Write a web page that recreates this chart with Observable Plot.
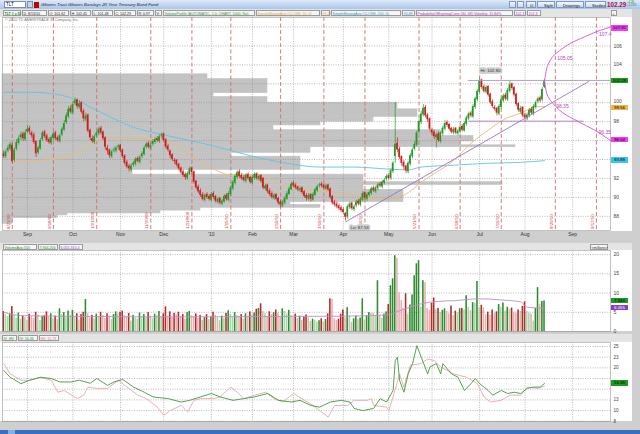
<!DOCTYPE html>
<html><head><meta charset="utf-8">
<script src="https://cdn.jsdelivr.net/npm/d3@7"></script>
<script src="https://cdn.jsdelivr.net/npm/@observablehq/plot@0.6"></script>
<style>
*{box-sizing:border-box}
body{margin:0;width:640px;height:434px;overflow:hidden;background:#cfcfcf;font-family:"Liberation Sans",Arial,sans-serif;position:relative}
.abs{position:absolute}
.panel{position:absolute;left:0;width:632px;background:#fff}
.hdr{position:absolute;left:0;width:632px;height:8px;background:#e4e4e4}
.bx{position:absolute;top:1px;height:6px;line-height:6px;font-size:3.6px;border:0.5px solid #9a9a9a;background:#f6f6f6;white-space:nowrap;overflow:visible;padding-left:0.5px;color:#222}
.tag{position:absolute;left:611px;width:17px;height:5.6px;line-height:5.6px;font-size:4.4px;text-align:center;color:#000}
.holder{position:absolute;left:0}
.holder svg{overflow:visible}
.btn{position:absolute;top:1px;height:7px;line-height:7px;font-size:4.1px;border:0.5px solid #7f98c0;background:linear-gradient(#f4f8fd,#c9d9ef);padding-left:6px;color:#111;white-space:nowrap}
</style></head>
<body>
<div class="abs" style="top:0;left:0;width:640px;height:9px;background:linear-gradient(#dfeaf8,#a8c5ec)">
  <div class="abs" style="left:4px;top:1px;width:22px;height:7px;background:#fff;border:0.5px solid #7a8fb0;font-size:4.5px;line-height:6px;padding-left:1px">TLT</div>
  <div class="abs" style="left:27px;top:1px;width:6px;height:7px;background:#c8d4e8;border:0.5px solid #7a8fb0"></div>
  <div class="abs" style="left:34px;top:1.5px;width:5px;height:6px;background:#c00000"></div>
  <div class="abs" style="left:41px;top:1px;font-size:4.4px;line-height:7px;font-style:italic;color:#222;white-space:nowrap">iShares Trust iShares Barclays 20 Year Treasury Bond Fund</div>
  <div class="btn" style="left:509px;width:7px;padding:0"></div>
  <div class="btn" style="left:517px;width:7px;padding:0"></div>
  <div class="btn" style="left:526px;width:10px;padding:0 0 0 3px">⊡</div>
  <div class="btn" style="left:537px;width:18px">Style</div>
  <div class="btn" style="left:556px;width:28px">Drawings</div>
  <div class="btn" style="left:585px;width:21px">Studies</div>
  <div class="abs" style="left:607px;top:0.5px;font-size:6.3px;font-weight:bold;color:#b0103a;line-height:8px">102.29</div>
  <div class="abs" style="left:627px;top:1px;font-size:2.8px;color:#1a7a1a;line-height:3.3px">+1.26<br>+1.25%</div>
</div>
<div class="hdr" style="top:9px" id="h1"></div>
<div class="panel" style="top:17px;height:214px"></div>
<div class="abs" style="left:5px;top:18px;font-size:3.8px;color:#777;white-space:nowrap">© 2010 TD AMERITRADE IP Company, Inc.</div>
<div class="holder" id="prof" style="top:17px"></div>
<div class="holder" id="main" style="top:17px"></div>
<div class="hdr" style="top:243px" id="h2"></div>
<div class="panel" style="top:250px;height:81px"></div>
<div class="holder" id="vol" style="top:250px"></div>
<div class="hdr" style="top:334px" id="h3"></div>
<div class="panel" style="top:342px;height:79px"></div>
<div class="holder" id="iv" style="top:342px"></div>
<div class="abs" style="top:430px;left:0;width:640px;height:4px;background:#3a6fc0"></div>
<div class="abs" style="top:430px;left:8px;width:7px;height:4px;background:#7fb0e8"></div>
<script>
// ---------- categories ----------
const holidays = ["2009-09-07","2009-11-26","2009-12-25","2010-01-01","2010-01-18","2010-02-15","2010-04-02","2010-05-31","2010-07-05","2010-09-06"];
const days = [];
for (let t = Date.UTC(2009,7,17); t <= Date.UTC(2010,8,30); t += 864e5) {
  const d = new Date(t), wd = d.getUTCDay(), s = d.toISOString().slice(0,10);
  if (wd > 0 && wd < 6 && !holidays.includes(s)) days.push(s);
}
const idx = s => days.indexOf(s);
const monthStarts = ["2009-09-01","2009-10-01","2009-11-02","2009-12-01","2010-01-04","2010-02-01","2010-03-01","2010-04-01","2010-05-03","2010-06-01","2010-07-01","2010-08-02","2010-09-01"];
const monthLabels = ["Sep","Oct","Nov","Dec","'10","Feb","Mar","Apr","May","Jun","Jul","Aug","Sep"];
const expiryDates = ["2009-08-21","2009-09-18","2009-10-16","2009-11-20","2009-12-18","2010-01-15","2010-02-19","2010-03-19","2010-04-16","2010-05-21","2010-06-18","2010-07-16","2010-08-20","2010-09-17"];
const expiryLabels = ["8/21/09","9/18/09","10/16/09","11/20/09","12/18/09","1/15/10","2/19/10","3/19/10","4/16/10","5/21/10","6/18/10","7/16/10","8/20/10","9/17/10"];
const priceTicks = [88,90,92,94,96,98,100,102,104,106,108];
const priceLabels = [88,90,92,98,104,106];   // the others sit under value tags
const volTicks = [0,5,10,15,20];
const ivTicks = [7.5,10,12.5,15,17.5,20,22.5,25];
const ivLabels = [7.5,10,12.5,20,22.5,25];

// ---------- daily OHLC (TLT, 8/17/09 .. 8/13/10) ----------
const open = [
94.6,94.3,94.9,95.1,95.5,93.9,95.1,95.7,96.3,96.7,
96.1,96.9,97.3,96.8,96.6,95.9,94.7,95.1,96.1,96.9,
96.5,96.1,95.7,96.2,96.8,96.3,95.9,96.6,97.1,97.9,
98.5,99.4,98.9,99.9,100.3,99.5,100.0,99.1,98.2,98.7,
97.1,96.2,95.8,96.5,96.7,97.3,96.9,96.3,95.2,95.0,
94.3,94.9,94.9,95.3,95.5,95.0,94.4,93.7,93.3,92.9,
93.4,93.5,94.1,93.7,94.3,94.5,95.3,95.7,95.2,95.6,
95.8,96.2,95.9,96.5,96.7,96.1,95.4,94.9,94.5,93.9,
93.9,93.5,93.1,92.7,92.4,92.0,92.4,93.1,92.7,91.7,
91.1,90.7,90.3,89.7,90.3,90.1,89.7,90.4,90.1,89.5,
89.9,89.3,89.5,90.2,89.7,90.3,90.9,91.5,92.1,92.7,
92.3,92.1,91.7,92.4,92.1,91.5,92.0,92.5,91.9,92.3,
92.0,90.9,91.3,90.7,90.4,89.9,90.3,89.9,89.5,89.1,
89.4,89.8,90.3,90.8,91.5,91.3,91.1,90.7,91.0,90.6,
90.2,89.8,90.3,89.7,90.2,90.7,91.2,91.4,91.3,90.9,
91.3,90.9,90.1,89.5,89.3,89.1,88.9,88.7,88.3,87.9,
88.9,89.4,88.7,89.1,89.6,89.2,89.7,90.5,89.8,90.2,
90.4,91.0,90.6,90.9,91.4,91.1,91.5,91.9,92.3,92.0,
92.7,94.3,95.7,95.1,94.3,93.7,93.3,92.7,93.5,94.3,
95.1,95.5,96.9,97.9,98.7,99.5,98.7,98.3,97.1,96.9,
96.3,96.7,95.9,96.7,97.2,97.9,97.7,97.3,96.8,97.3,
96.7,96.9,97.5,97.0,97.7,98.3,98.9,98.5,99.5,100.3,
101.1,102.4,101.7,101.1,101.7,100.9,100.1,99.5,99.4,98.8,
99.5,100.2,100.8,100.3,101.2,102.0,101.6,100.9,99.9,99.0,
99.5,98.7,98.3,98.6,99.3,98.8,99.5,100.1,100.5,100.3,
101.62];
const high = [
94.9,95.0,95.5,95.8,95.7,95.2,96.1,96.5,96.9,96.9,
97.1,97.6,97.5,97.0,96.8,96.0,95.4,96.2,97.0,97.1,
96.7,96.3,96.5,96.9,97.0,96.5,96.7,97.4,98.1,98.9,
99.6,99.7,100.1,100.5,100.4,100.2,100.1,99.3,98.9,98.8,
97.2,96.5,96.6,97.0,97.4,97.5,97.0,96.4,95.5,95.1,
95.0,95.3,95.4,95.6,95.6,95.1,94.5,93.9,93.5,93.5,
93.8,94.2,94.3,94.4,94.8,95.4,95.8,95.9,95.7,96.1,
96.3,96.4,96.6,96.8,96.8,96.2,95.6,95.0,94.6,94.1,
94.0,93.6,93.2,92.9,92.6,92.7,93.2,93.2,92.8,91.8,
91.3,90.9,90.5,90.4,90.5,90.3,90.5,90.6,90.2,90.0,
90.0,89.8,90.3,90.4,90.6,91.2,91.8,92.4,92.8,92.9,
92.5,92.3,92.5,92.6,92.2,92.3,92.6,92.6,92.4,92.4,
92.1,91.4,91.4,90.9,90.6,90.4,90.4,90.0,89.7,89.7,
90.1,90.6,91.1,91.6,91.7,91.5,91.2,91.1,91.1,90.7,
90.4,90.4,90.4,90.5,91.0,91.3,91.5,91.6,91.4,91.4,
91.4,91.0,90.2,89.7,89.5,89.3,89.1,88.9,88.4,89.2,
89.5,89.5,89.2,89.7,89.8,90.0,90.6,90.6,90.5,90.7,
91.1,91.2,91.2,91.5,91.6,91.8,92.0,92.4,92.5,93.0,
93.8,100.0,96.3,95.3,94.4,93.9,93.4,93.8,94.6,95.2,
95.9,97.0,98.2,99.1,99.8,99.7,98.9,98.4,97.3,97.1,
96.8,96.9,97.0,97.5,98.1,98.1,97.8,97.4,97.4,97.4,
97.2,97.6,97.7,98.0,98.6,99.0,99.1,99.8,100.6,101.4,
102.8,102.5,101.9,101.8,101.8,101.0,100.3,99.7,99.5,99.8,
100.5,100.9,101.0,101.5,102.3,102.1,101.7,101.0,100.0,99.6,
99.6,98.9,98.9,99.4,99.5,99.8,100.2,100.6,100.7,101.6,
102.45];
const low = [
94.1,94.1,94.7,94.9,93.6,93.7,94.9,95.5,96.0,95.9,
95.9,96.7,96.6,96.2,95.6,94.2,94.5,95.0,95.9,96.2,
95.8,95.6,95.5,96.0,96.0,95.8,95.7,96.4,97.0,97.7,
98.3,98.8,98.7,99.7,99.3,99.3,98.8,98.0,98.0,96.8,
96.0,95.7,95.6,96.3,96.5,96.6,96.0,95.0,94.5,94.1,
94.1,94.7,94.7,95.0,94.7,94.1,93.4,93.0,92.7,92.7,
93.2,93.3,93.6,93.5,94.1,94.4,95.1,95.1,95.0,95.4,
95.6,95.8,95.7,96.2,95.8,95.1,94.8,94.1,93.8,93.5,
93.2,92.8,92.4,92.1,91.8,91.8,92.3,92.4,91.4,90.8,
90.4,90.0,89.6,89.5,89.8,89.6,89.5,89.8,89.4,89.3,
89.2,89.1,89.4,89.6,89.5,90.1,90.7,91.3,91.9,92.0,
91.8,91.6,91.5,91.8,91.4,91.3,91.8,91.8,91.7,91.5,
90.8,90.7,90.4,90.1,89.8,89.7,89.6,89.2,88.9,88.9,
89.2,89.7,90.2,90.7,91.0,90.8,90.6,90.5,90.3,89.9,
89.6,89.6,89.5,89.6,90.1,90.5,91.0,91.0,90.8,90.7,
90.6,89.8,89.2,89.0,88.8,88.6,88.4,88.2,87.5,87.7,
88.7,88.6,88.5,88.9,89.1,89.0,89.5,89.7,89.6,90.0,
90.2,90.5,90.4,90.7,91.0,90.9,91.3,91.7,91.8,91.8,
92.5,93.6,94.7,94.0,93.3,92.9,92.5,92.5,93.3,94.1,
94.9,95.3,96.7,97.7,98.5,98.4,97.9,97.0,96.5,96.1,
95.2,95.8,95.7,96.5,97.0,97.4,97.0,96.7,96.6,96.6,
96.5,96.7,96.9,96.9,97.5,98.1,98.4,98.3,99.3,100.1,
100.9,101.4,101.0,100.9,100.6,99.8,99.4,99.1,98.6,98.6,
99.3,100.0,100.2,100.1,101.0,101.3,100.6,99.6,99.0,98.8,
98.4,98.0,98.1,98.4,98.7,98.6,99.3,99.9,100.0,100.1,
101.48];
const close = [
94.3,94.8,95.2,95.6,93.8,95.0,95.8,96.2,96.6,96.2,
96.8,97.2,96.9,96.5,95.8,94.6,95.2,96.0,96.8,96.4,
96.0,95.8,96.3,96.7,96.2,96.0,96.5,97.2,97.8,98.6,
99.3,99.0,99.8,100.2,99.6,99.9,99.0,98.3,98.6,97.0,
96.3,95.9,96.4,96.8,97.2,96.8,96.2,95.3,94.9,94.4,
94.8,95.0,95.2,95.4,94.9,94.3,93.6,93.2,93.0,93.3,
93.6,94.0,93.8,94.2,94.6,95.2,95.6,95.3,95.5,95.9,
96.1,96.0,96.4,96.6,96.0,95.3,95.0,94.4,94.0,93.8,
93.4,93.0,92.6,92.3,92.1,92.5,93.0,92.6,91.6,91.0,
90.6,90.2,89.8,90.2,90.0,89.8,90.3,90.0,89.6,89.8,
89.4,89.6,90.1,89.8,90.4,91.0,91.6,92.2,92.6,92.2,
92.0,91.8,92.3,92.0,91.6,92.1,92.4,92.0,92.2,91.7,
91.0,91.2,90.6,90.3,90.0,90.2,89.8,89.4,89.2,89.5,
89.9,90.4,90.9,91.4,91.2,91.0,90.8,90.9,90.5,90.1,
89.9,90.2,89.8,90.3,90.8,91.1,91.3,91.2,91.0,91.2,
90.8,90.0,89.4,89.2,89.0,88.8,88.6,88.4,87.9,89.0,
89.3,88.8,89.0,89.5,89.3,89.8,90.4,89.9,90.3,90.5,
90.9,90.7,91.0,91.3,91.2,91.6,91.8,92.2,92.0,92.8,
93.6,95.6,95.0,94.2,93.6,93.2,92.8,93.6,94.4,95.0,
95.6,96.8,98.0,98.8,99.4,98.6,98.2,97.2,96.8,96.4,
96.6,96.0,96.8,97.3,97.8,97.6,97.2,96.9,97.2,96.8,
97.0,97.4,97.1,97.8,98.4,98.8,98.6,99.6,100.4,101.2,
102.3,101.6,101.2,101.6,100.8,100.0,99.6,99.3,98.9,99.6,
100.3,100.7,100.4,101.3,101.9,101.5,100.8,99.8,99.2,99.4,
98.6,98.4,98.7,99.2,98.9,99.6,100.0,100.4,100.2,101.4,
102.29];
// daily volume, millions
const volume = [
5.2,4.4,3.9,4.6,6.5,4.2,3.5,4.8,3.2,4.0,3.6,
2.9,4.5,3.8,3.4,5.0,4.3,2.8,3.9,4.1,5.1,3.7,
4.6,3.3,4.0,3.1,5.9,4.4,4.9,3.6,5.3,4.2,5.5,
3.9,4.6,3.0,4.4,5.0,8.3,4.7,3.6,4.2,3.3,4.5,
3.9,5.0,4.2,3.4,4.6,4.0,3.1,4.4,5.1,4.6,5.0,
5.3,4.1,3.8,4.7,2.7,4.2,3.5,3.2,4.8,3.9,4.4,
3.6,4.9,4.0,3.3,4.5,4.1,5.2,3.8,4.6,6.4,4.0,
5.1,3.6,4.7,4.3,5.0,3.9,4.4,3.2,4.9,5.2,4.1,
3.7,4.6,3.4,4.2,2.9,3.6,4.4,3.1,3.8,5.0,4.2,
3.5,2.8,4.0,3.3,4.7,5.4,4.5,3.7,4.9,4.1,3.8,
4.4,3.2,4.6,4.0,5.1,4.3,4.8,5.8,6.0,7.2,5.2,
4.6,3.9,5.1,4.4,4.9,5.6,4.8,3.7,5.9,5.2,4.6,
5.5,4.2,3.6,4.5,3.3,4.0,2.9,3.8,4.3,3.5,2.6,
3.2,2.9,2.4,2.8,3.3,2.5,3.1,4.6,8.5,8.4,3.3,
2.9,3.2,4.5,5.6,3.5,6.2,4.1,2.4,3.3,4.0,3.1,
3.5,8.5,3.0,4.1,4.9,4.8,4.7,4.2,13.2,4.0,3.4,
4.5,5.1,7.0,11.9,13.7,19.7,19.0,10.1,8.0,6.0,9.8,
4.5,6.9,9.5,14.5,17.6,18.4,6.3,13.2,12.7,6.0,5.5,
7.3,8.7,5.8,6.0,4.9,5.5,5.9,5.2,4.6,6.6,4.1,
5.3,4.8,5.9,6.0,5.6,9.3,6.2,5.4,7.5,7.3,13.0,
6.2,6.8,6.1,4.4,5.0,4.2,5.6,4.6,5.1,7.0,6.3,
7.4,5.3,6.3,5.8,6.1,5.0,4.7,5.6,5.2,6.5,7.7,
5.2,4.8,4.5,2.7,6.0,11.4,7.0,7.8,7.944];
// 50-day volume average (bar index, millions)
const volAvgIdx = [0,9,40,80,120,160,177,183,193,200,208,220,230,239,242,250];
const volAvgVal = [5.0,4.1,3.9,3.8,3.9,4.0,4.3,5.4,7.2,7.8,8.0,8.5,8.2,7.7,6.3,6.06];
// moving averages (bar index, price)
const sma50Idx = [5,16,26,34,43,49,60,72,78,88,97,106,115,125,133,146,159,170,180,187,193,199,208,216,224,231,239,247,250];
const sma50Val = [93.8,93.9,94.1,94.7,96.0,96.3,96.2,96.0,95.7,94.2,93.0,92.3,92.3,91.8,90.9,90.7,90.4,89.9,89.9,90.5,91.6,92.5,93.9,95.7,97.1,98.2,98.9,99.6,99.56];
const sma200Idx = [0,14,30,43,60,76,96,114,131,146,162,177,187,193,208,224,239,250];
const sma200Val = [101.1,101.1,100.6,99.2,97.4,96.5,95.5,94.4,93.6,93.2,93.2,93.0,92.9,93.2,93.4,93.6,93.7,93.88];
// probability cone (bar index, upper, lower)
const coneIdx = [250,251,252,254,257,260,264,269,274,278,280.5];
const coneHi = [102.3,103.6,104.2,104.9,105.5,106.0,106.5,107.0,107.5,107.8,108.0];
const coneLo = [102.3,101.0,100.5,99.9,99.2,98.7,98.2,97.6,97.0,96.4,96.0];
// volume profile (price band low, high, volume units)
const profLo = [102.5,101.0,100.6,100.0,99.3,98.5,98.0,97.6,97.1,96.5,95.9,95.5,95.3,94.7,94.3,92.9,92.4,91.6,91.3,90.8,89.5,89.2,88.9,88.6,88.3,88.1,87.8,87.2];
const profHi = [103.0,102.5,101.0,100.6,100.0,99.3,98.5,98.0,97.6,97.1,96.5,95.9,95.5,95.3,94.7,94.3,92.9,92.4,91.6,91.3,90.8,89.5,89.2,88.9,88.6,88.3,88.1,87.8];
const profVol = [205,265,211,265,395,415,371,318,271,438,471,458,513,308,228,298,130,361,500,361,401,288,318,198,158,65,55,10];
// implied / historical volatility (bar index, %)
const ivIdx = [0,3,8,12,17,22,26,31,35,40,43,48,51,55,60,65,69,76,82,86,91,96,100,106,111,116,122,127,133,137,142,146,151,156,160,162,166,171,174,177,180,181,182,183,185,187,189,191,193,196,197,200,202,203,207,210,213,216,218,220,224,226,230,233,236,239,242,245,248,250];
const ivVal = [19.4,17.8,16.3,17.1,17.8,17.5,16.7,16.7,17.1,16.4,17.5,15.9,16.7,17.3,15.5,14.3,13.2,12.8,12.0,12.4,13.2,14.0,13.2,12.4,12.8,13.2,14.0,12.4,12.0,12.4,11.2,10.8,12.0,12.4,12.0,10.5,10.0,10.5,12.8,12.0,14.7,21.7,22.5,17.1,14.3,18.6,21.0,25.2,22.5,18.6,20.2,21.0,18.6,21.0,18.6,17.8,14.7,16.3,17.5,16.3,14.7,13.6,14.7,14.0,14.3,14.0,15.2,15.5,15.5,16.36];
const hvIdx = [0,3,8,12,17,22,25,28,34,37,39,43,48,53,57,62,66,71,74,77,82,85,88,91,97,100,105,108,111,116,121,125,129,134,139,143,146,150,153,159,162,168,170,171,177,178,180,183,185,188,193,196,199,202,208,214,219,222,225,230,234,239,242,247,250];
const hvVal = [21.0,18.6,17.1,17.1,17.8,17.1,14.3,14.7,12.8,13.6,15.5,15.2,15.2,17.1,15.5,13.6,12.8,10.8,8.9,10.0,11.2,9.7,12.4,12.8,12.8,13.2,15.5,14.3,12.8,13.6,14.3,12.8,12.0,14.0,12.4,11.2,10.0,8.5,11.2,11.2,12.4,12.4,12.8,11.2,10.8,10.0,13.2,18.6,15.5,20.6,21.0,22.1,21.7,20.2,18.6,17.8,16.3,13.2,12.0,12.4,13.6,13.6,15.5,15.2,15.73];
// drawn lines (bar index / price anchors)
const drawLines = [
  {x1:158, y1:87.4, x2:270.5, y2:102.25, c:"#9a72c8"},
  {x1:214.5, y1:102.35, x2:280.5, y2:102.35, c:"#a89cb4"},
  {x1:215, y1:98.05, x2:268, y2:98.05, c:"#b47ac6"}
];

// ---------- build ----------
const UP = "#1f9a24", DN = "#d11c1c";
const FONT = "'Liberation Sans', Arial, sans-serif";
const xDomain = [-0.55, 280.5];
const monthIdx = monthStarts.map(idx);
const expiries = expiryDates.map((d, k) => ({i: idx(d), label: expiryLabels[k]}));
const candles = close.map((c, i) => ({i, o: open[i], h: high[i], l: low[i], c}));
const bars = volume.map((v, i) => {
  const up = i === 0 ? close[0] >= open[0] : close[i] >= close[i - 1];
  const strong = i === 0 ? true : v >= volume[i - 1];
  return {i, v, col: up ? (strong ? "#2e8c2e" : "#a9d6a9") : (strong ? "#b42a2a" : "#e6b0b0")};
});
const pts = (xs, ys) => xs.map((x, k) => ({x, y: ys[k]}));
const sma50 = pts(sma50Idx, sma50Val), sma200 = pts(sma200Idx, sma200Val);
const coneU = pts(coneIdx, coneHi), coneL = pts(coneIdx, coneLo);
const prof = profLo.map((lo, k) => ({lo, hi: profHi[k], v: profVol[k]}));
const grid = {stroke: "#8a8a8a", strokeDasharray: "1,1.4", strokeWidth: 0.6, strokeOpacity: 1};
const common = {width: 640, marginLeft: 2, marginRight: 30, style: {background: "transparent", fontFamily: FONT, overflow: "visible"}};

// volume profile layer
const profPlot = Plot.plot({
  ...common, height: 226, marginTop: 0, marginBottom: 13,
  x: {domain: [0, 608], axis: null}, y: {domain: [86.5, 109], axis: null},
  marks: [Plot.rect(prof, {x1: 0, x2: "v", y1: "lo", y2: "hi", fill: "#c3c3c3", stroke: "#c3c3c3", strokeWidth: 0.6})]
});
document.getElementById("prof").appendChild(profPlot);

const mainPlot = Plot.plot({
  ...common, height: 226, marginTop: 0, marginBottom: 13,
  x: {domain: xDomain, axis: null}, y: {domain: [86.5, 109], axis: null},
  color: {type: "identity"},
  marks: [
    Plot.ruleY(priceTicks, {...grid}),
    Plot.ruleX(monthIdx, {...grid}),
    Plot.ruleX(expiries, {x: "i", stroke: "#cf6e6e", strokeDasharray: "4,2.5", strokeWidth: 0.9}),
    Plot.text(expiries, {x: "i", text: "label", frameAnchor: "bottom", rotate: -90, textAnchor: "start", dx: -2.6, dy: -1.5, fontSize: 4.4, fill: "#c84848"}),
    Plot.line(sma200, {x: "x", y: "y", stroke: "#5ec4e4", strokeWidth: 0.9, curve: "monotone-x"}),
    Plot.line(sma50, {x: "x", y: "y", stroke: "#e9bb72", strokeWidth: 0.9, curve: "monotone-x"}),
    Plot.ruleX(candles, {x: "i", y1: "l", y2: "h", stroke: d => d.c >= d.o ? UP : DN, strokeWidth: 0.7}),
    Plot.rect(candles, {x1: d => d.i - 0.38, x2: d => d.i + 0.38, y1: "o", y2: "c", fill: d => d.c >= d.o ? UP : DN}),
    Plot.link(drawLines, {x1: "x1", y1: "y1", x2: "x2", y2: "y2", stroke: "c", strokeWidth: 0.9}),
    Plot.line(coneU, {x: "x", y: "y", stroke: "#d64fd6", strokeWidth: 0.9, curve: "monotone-x"}),
    Plot.line(coneL, {x: "x", y: "y", stroke: "#d64fd6", strokeWidth: 0.9, curve: "monotone-x"}),
    Plot.text([coneU[3]], {x: "x", y: "y", text: () => "105.05", textAnchor: "start", dx: 4, dy: 2, fontSize: 5, fill: "#b446bc"}),
    Plot.text([coneU[10]], {x: "x", y: "y", text: () => "107.4", textAnchor: "end", dx: 1, dy: 7.5, fontSize: 5, fill: "#b446bc"}),
    Plot.text([coneL[3]], {x: "x", y: "y", text: () => "98.35", textAnchor: "start", dx: 3, dy: 3, fontSize: 5, fill: "#b446bc"}),
    Plot.text([coneL[8]], {x: "x", y: "y", text: () => "96.35", textAnchor: "start", dx: 2, dy: 1.5, fontSize: 5, fill: "#b446bc"}),
    Plot.text([candles[220]], {x: "i", y: "h", text: () => "Hi: 102.80", textAnchor: "start", dx: 1, dy: -6, fontSize: 4.4, fill: "#333", stroke: "#cfcfcf", strokeWidth: 3.5}),
    Plot.text([candles[158]], {x: "i", y: "l", text: () => "Lo: 87.53", textAnchor: "start", dx: 5, dy: 6.5, fontSize: 4.4, fill: "#333", stroke: "#cfcfcf", strokeWidth: 3.5}),
    Plot.frame({stroke: "#9a9a9a", strokeWidth: 0.6}),
    Plot.axisY({anchor: "right", ticks: priceLabels, tickSize: 0, tickPadding: 3, fontSize: 5, color: "#444", label: null}),
    Plot.axisY({anchor: "right", ticks: [100], tickSize: 0, tickPadding: 3, dy: -1.8, fontSize: 5, color: "#444", label: null}),
    Plot.axisX({ticks: monthIdx, tickFormat: d => monthLabels[monthIdx.indexOf(d)], tickSize: 0, tickPadding: 2, fontSize: 5, color: "#333", label: null})
  ]
});
document.getElementById("main").appendChild(mainPlot);

const volPlot = Plot.plot({
  ...common, height: 81, marginTop: 0, marginBottom: 0,
  x: {domain: xDomain, axis: null}, y: {domain: [0, 21.05], axis: null},
  color: {type: "identity"},
  marks: [
    Plot.ruleY(volTicks, {...grid}),
    Plot.ruleX(monthIdx, {...grid}),
    Plot.rect(bars, {x1: d => d.i - 0.36, x2: d => d.i + 0.36, y1: 0, y2: "v", fill: "col"}),
    Plot.line(pts(volAvgIdx, volAvgVal), {x: "x", y: "y", stroke: "#c08cc4", strokeWidth: 0.9, curve: "monotone-x"}),
    Plot.frame({stroke: "#9a9a9a", strokeWidth: 0.6}),
    Plot.axisY({anchor: "right", ticks: volTicks, tickSize: 0, tickPadding: 3, fontSize: 5, color: "#444", label: null})
  ]
});
document.getElementById("vol").appendChild(volPlot);

const ivPlot = Plot.plot({
  ...common, height: 79, marginTop: 0, marginBottom: 0,
  x: {domain: xDomain, axis: null}, y: {domain: [7.44, 25.94], axis: null},
  marks: [
    Plot.ruleY(ivTicks, {...grid}),
    Plot.ruleX(monthIdx, {...grid}),
    Plot.line(pts(hvIdx, hvVal), {x: "x", y: "y", stroke: "#e7a9a9", strokeWidth: 0.9}),
    Plot.line(pts(ivIdx, ivVal), {x: "x", y: "y", stroke: "#3f9a3f", strokeWidth: 0.9}),
    Plot.frame({stroke: "#9a9a9a", strokeWidth: 0.6}),
    Plot.axisY({anchor: "right", ticks: ivLabels, tickSize: 0, tickPadding: 3, fontSize: 4.6, color: "#444", label: null})
  ]
});
document.getElementById("iv").appendChild(ivPlot);

// ---------- value tags on the right, placed through the scales ----------
function tag(top0, plot, v, text, bg, fg) {
  const y = top0 + plot.scale("y").apply(v);
  const d = document.createElement("div");
  d.className = "tag"; d.textContent = text;
  d.style.top = (y - 2.8) + "px"; d.style.background = bg; d.style.color = fg || "#000";
  document.body.appendChild(d);
}
tag(17, mainPlot, coneHi[coneHi.length - 1] - 0.18, "107.82", "#f23cf2");
tag(17, mainPlot, close[close.length - 1], "102.29", "#1c9a1c");
tag(17, mainPlot, sma50Val[sma50Val.length - 1] - 0.1, "99.56", "#f4b443");
tag(17, mainPlot, coneLo[coneLo.length - 1] + 0.04, "96.04", "#f23cf2");
tag(17, mainPlot, sma200Val[sma200Val.length - 1], "93.88", "#3cc4f0");
tag(250, volPlot, volume[volume.length - 1], "7.944", "#1c9a1c");
tag(250, volPlot, volAvgVal[volAvgVal.length - 1], "6.055", "#8a3cc8", "#fff");
tag(342, ivPlot, ivVal[ivVal.length - 1], "16.36", "#1c9a1c");

// ---------- header rows ----------
function header(id, items) {
  const h = document.getElementById(id);
  for (const [t, l, r, c, b] of items) {
    const d = document.createElement("div");
    d.className = "bx"; d.textContent = t;
    d.style.left = l + "px"; d.style.width = (r - l) + "px";
    if (c) d.style.color = c;
    if (b) d.style.fontWeight = "bold";
    h.appendChild(d);
  }
}
header("h1", [
  ["TLT 1 y D", 3, 21, "#1a8a1a", 1], ["D: 8/13/10", 22, 47], ["O: 101.62", 48, 69], ["H: 102.45", 70, 91],
  ["L: 101.48", 92, 113], ["C: 102.29", 114, 136], ["R: 0.97", 137, 154], ["V:", 155, 162],
  ["VolumeProfile (AUTOMATIC, 1.0, CHART, 1000, No)", 163, 255, "#2a9a2a"],
  ["SimpleMovingAvg (CLOSE, 50, 0)", 256, 320, "#e0a030"], ["99.56", 321, 330, "#e0a030"],
  ["SimpleMovingAvg (CLOSE, 200, 0)", 331, 401, "#1aa0c8"], ["93.88", 402, 415, "#1aa0c8"],
  ["ProbabilityOfExpiringCone (30, 68) Volatility: 15.84%", 416, 513, "#c030c0"],
  ["102.3", 514, 526, "#c030c0"], ["102.3", 527, 541, "#c030c0"], ["+", 611, 617, "#333"]
]);
header("h2", [
  ["VolumeAvg (50)", 3, 37, "#2a8a2a"], ["7,944,200", 38, 58, "#2a8a2a"], ["6,055,310.4", 59, 83, "#8a3cc8"],
  ["<millions>", 590, 608, "#333"]
]);
header("h3", [
  ["IV_HV", 2, 17, "#2a8a2a"], ["IV: 16.36", 18, 38, "#2a8a2a"], ["HV: 15.73", 39, 59, "#d07070"]
]);
</script>
</body></html>
